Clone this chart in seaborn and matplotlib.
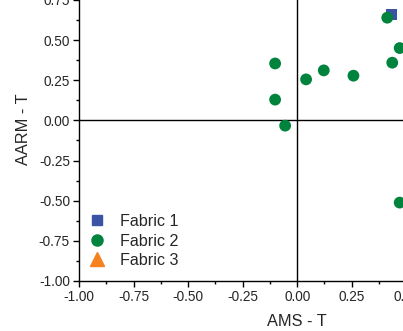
import matplotlib
matplotlib.use("Agg")
import matplotlib.pyplot as plt
from matplotlib.lines import Line2D
import seaborn as sns
import pandas as pd

# Data
fabric1_x = [0.434]
fabric1_y = [0.66]
fabric2_x = [0.413, 0.47, 0.436, -0.101, -0.101, -0.055, 0.041, 0.122, 0.258, 0.47]
fabric2_y = [0.639, 0.45, 0.359, 0.354, 0.129, -0.033, 0.255, 0.311, 0.278, -0.512]
fabric3_x = []
fabric3_y = []
groups = ["Fabric 1", "Fabric 2", "Fabric 3"]
colors = {"Fabric 1": "#3a53a4", "Fabric 2": "#00843d", "Fabric 3": "#f5821f"}
markers = {"Fabric 1": "s", "Fabric 2": "o", "Fabric 3": "^"}
ticks = [-1.00, -0.75, -0.50, -0.25, 0.00, 0.25, 0.50, 0.75, 1.00]

sns.set_style("ticks")
plt.rcParams["font.family"] = ["Liberation Sans", "DejaVu Sans"]
plt.rcParams["axes.unicode_minus"] = False

df = pd.DataFrame({
    "x": fabric1_x + fabric2_x + fabric3_x,
    "y": fabric1_y + fabric2_y + fabric3_y,
    "fabric": ["Fabric 1"] * len(fabric1_x) + ["Fabric 2"] * len(fabric2_x) + ["Fabric 3"] * len(fabric3_x),
})

fig = plt.figure(figsize=(4.03, 3.31), dpi=100)
ax = fig.add_axes([79 / 403, 50 / 331, 436.3 / 403, 321.3 / 331])

ax.axhline(0, color="black", lw=1.0, zorder=1)
ax.axvline(0, color="black", lw=1.0, zorder=1)

sizes = {"Fabric 1": 60, "Fabric 2": 72, "Fabric 3": 80}
for g in groups:
    sub = df[df["fabric"] == g]
    if len(sub):
        sns.scatterplot(data=sub, x="x", y="y", color=colors[g], marker=markers[g],
                        s=sizes[g], edgecolor="none", linewidth=0, ax=ax, zorder=3, legend=False)

ax.set_xlim(-1, 1)
ax.set_ylim(-1, 1)
ax.set_xticks(ticks)
ax.set_yticks(ticks)
ax.set_xticklabels([f"{t:.2f}" for t in ticks])
ax.set_yticklabels([f"{t:.2f}" for t in ticks])
ax.set_xticks([t + 0.125 for t in ticks[:-1]], minor=True)
ax.set_yticks([t + 0.125 for t in ticks[:-1]], minor=True)
ax.tick_params(which="major", direction="out", length=4, width=1, labelsize=9.8, pad=2.5, color="black")
ax.tick_params(which="minor", direction="out", length=2.5, width=1, color="black")

for s in ["left", "bottom"]:
    ax.spines[s].set_color("black")
    ax.spines[s].set_linewidth(1.0)
for s in ["top", "right"]:
    ax.spines[s].set_visible(False)

ax.set_xlabel("AMS - T", fontsize=11.8)
ax.set_ylabel("AARM - T", fontsize=11.8, va="center")
ax.xaxis.set_label_coords(0.5, -0.103)
ax.yaxis.set_label_coords(-0.128, 0.473)

handles = [Line2D([0], [0], marker=markers[g], color=colors[g], linestyle="none",
                  markersize={"Fabric 1": 7.2, "Fabric 2": 8, "Fabric 3": 9.5}[g]) for g in groups]
ax.legend(handles, groups, loc="upper left", bbox_to_anchor=(89.0 / 403, (331 - 214) / 331),
          bbox_transform=fig.transFigure, frameon=False, fontsize=11.6, handlelength=1.0,
          handletextpad=0.95, labelspacing=0.28, borderpad=0, borderaxespad=0)

fig.savefig("out.png", dpi=100)
